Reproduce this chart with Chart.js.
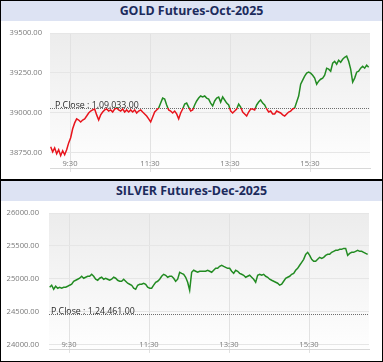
<!DOCTYPE html>
<html>
<head>
<meta charset="utf-8">
<script src="https://cdn.jsdelivr.net/npm/chart.js@4.4.0/dist/chart.umd.min.js"></script>
<style>
    body { margin: 0; background: #fff; font-family: 'Open Sans', sans-serif; }
    .panel { position: absolute; left: 0; width: 383px; box-sizing: border-box; border: 1px solid #000; background: #fff; }
    .head { height: 20px; line-height: 20px; background: #dde3f3; color: #1c2b5c; font-weight: bold; font-size: 12.4px; text-align: center; }
    canvas { display: block; }
</style>
</head>
<body>
<div class="panel" style="top:0;height:180px">
    <div class="head">GOLD Futures-Oct-2025</div>
    <canvas id="goldChart" width="381" height="158"></canvas>
</div>
<div class="panel" style="top:180px;height:182px">
    <div class="head">SILVER Futures-Dec-2025</div>
    <canvas id="silverChart" width="381" height="160"></canvas>
</div>
<script>
// x軸：9:00からの分、3分毎のデータ
const startMinute = 1;
const stepMinutes = 3;
const timeTicks = ["9:30", "11:30", "13:30", "15:30"];

// GOLD
const goldTicks = [38750, 39000, 39250, 39500];
const goldPrevClose = 39033;
const goldPrevCloseText = "P.Close : 1,09,033.00";
const goldPrices = [
    38789, 38757, 38782, 38745, 38770, 38733, 38764, 38739, 38770, 38813,
    38845, 38901, 38938, 38963, 38956, 38944, 38956, 38963, 38981, 39000,
    39012, 39019, 39025, 38988, 38956, 38988, 39006, 39019, 39025, 39012,
    39019, 39006, 39025, 39031, 39019, 39012, 39025, 39006, 39019, 39006,
    39019, 39006, 39019, 39000, 39012, 39019, 39006, 38994, 38981, 38963,
    38944, 38975, 39006, 39019, 39031, 39062, 39093, 39087, 39050, 39019,
    39012, 39000, 39012, 38994, 38963, 39000, 39025, 39056, 39062, 39037,
    39012, 39019, 39050, 39075, 39093, 39106, 39100, 39106, 39093, 39087,
    39062, 39044, 39075, 39093, 39100, 39068, 39100, 39081, 39062, 39050,
    39012, 39000, 39012, 39025, 39056, 39037, 39006, 38994, 38981, 39006,
    39025, 39025, 39019, 39050, 39068, 39081, 39062, 39050, 39025, 39006,
    39012, 38994, 38994, 39012, 39006, 39000, 38988, 38981, 38994, 39006,
    39012, 39025, 39031, 39068, 39106, 39180, 39205, 39230, 39249, 39255,
    39249, 39236, 39218, 39180, 39199, 39211, 39218, 39236, 39280, 39274,
    39261, 39311, 39323, 39305, 39330, 39317, 39336, 39348, 39355, 39323,
    39274, 39193, 39218, 39255, 39261, 39280, 39292, 39280, 39299, 39286
];

// SILVER
const silverTicks = [24000, 24500, 25000, 25500, 26000];
const silverPrevClose = 24461;
const silverPrevCloseText = "P.Close : 1,24,461.00";
const silverPrices = [
    24871, 24902, 24841, 24886, 24856, 24871, 24856, 24871, 24871, 24886,
    24902, 24917, 24962, 24977, 24993, 25008, 25038, 25008, 25023, 25038,
    25038, 25068, 25038, 24993, 24977, 25008, 25023, 24993, 25008, 24993,
    24977, 24993, 25023, 25008, 24977, 24962, 24962, 24993, 24962, 24932,
    24917, 24902, 24856, 24841, 24902, 24917, 24917, 24932, 24917, 24871,
    24856, 24856, 24902, 24947, 24962, 24993, 25038, 25068, 25053, 25023,
    25038, 25038, 25008, 24962, 24993, 25099, 25083, 25068, 25023, 24947,
    24826, 25099, 25129, 25114, 25099, 25114, 25114, 25114, 25114, 25129,
    25114, 25099, 25129, 25159, 25159, 25189, 25205, 25189, 25174, 25159,
    25159, 25114, 25083, 25129, 25114, 25083, 25068, 25053, 25023, 25038,
    25053, 25023, 24993, 24947, 25053, 25068, 25053, 25068, 25038, 25023,
    24993, 24977, 24962, 24947, 24932, 24902, 24917, 24962, 25008, 25023,
    25038, 25068, 25083, 25129, 25159, 25205, 25250, 25296, 25371, 25402,
    25356, 25296, 25265, 25265, 25296, 25326, 25311, 25326, 25356, 25371,
    25371, 25402, 25417, 25432, 25432, 25447, 25447, 25462, 25462, 25356,
    25386, 25402, 25402, 25417, 25432, 25417, 25417, 25402, 25386, 25371
];

const upColor = '#228b22';
const downColor = '#e8141c';

// "9:30" -> 30
function toMinutes(label) {
    const [h, m] = label.split(':').map(Number);
    return (h - 9) * 60 + m;
}
function toLabel(min) {
    return (9 + Math.floor(min / 60)) + ':' + String(min % 60).padStart(2, '0');
}

// P.Closeより上は緑、下は赤
function splitColor(ctx, prevClose) {
    const chart = ctx.chart;
    const area = chart.chartArea;
    if (!area) return upColor;
    const yPos = chart.scales.y.getPixelForValue(prevClose);
    let stop = (yPos - area.top) / (area.bottom - area.top);
    stop = Math.min(Math.max(stop, 0), 1);
    const g = chart.ctx.createLinearGradient(0, area.top, 0, area.bottom);
    g.addColorStop(0, upColor);
    g.addColorStop(stop, upColor);
    g.addColorStop(stop, downColor);
    g.addColorStop(1, downColor);
    return g;
}

// 描画領域の背景グラデーション
const areaBg = {
    id: 'areaBg',
    beforeDraw(chart) {
        const { ctx, chartArea: a } = chart;
        const g = ctx.createLinearGradient(0, a.top, 0, a.bottom);
        g.addColorStop(0, '#ececec');
        g.addColorStop(1, '#fefefe');
        ctx.save();
        ctx.fillStyle = g;
        ctx.fillRect(a.left, a.top, a.right - a.left, a.bottom - a.top);
        ctx.restore();
    }
};

// 前日終値の点線とラベル
const prevCloseLine = {
    id: 'prevClose',
    beforeDatasetsDraw(chart, args, opts) {
        const { ctx, chartArea: a } = chart;
        const y = Math.round(chart.scales.y.getPixelForValue(opts.value)) + 0.5;
        ctx.save();
        ctx.strokeStyle = '#6e6e6e';
        ctx.lineWidth = 1;
        ctx.setLineDash([1, 1]);
        ctx.beginPath();
        ctx.moveTo(a.left, y);
        ctx.lineTo(a.right, y);
        ctx.stroke();
        ctx.setLineDash([]);
        ctx.font = '8.8px "Open Sans"';
        ctx.fillStyle = '#2b2b2b';
        ctx.textBaseline = 'alphabetic';
        ctx.fillText(opts.text, a.left + opts.textOffset, y - 1);
        ctx.restore();
    }
};

function createLineChart(id, s) {
    const points = s.prices.map((v, i) => ({ x: startMinute + i * stepMinutes, y: v }));
    let config = {
        type: 'line',
        data: {
            datasets: [{
                data: points,
                borderColor: (ctx) => splitColor(ctx, s.prevClose),
                borderWidth: 1.5,
                pointRadius: 0,
                tension: 0
            }]
        },
        options: {
            responsive: false,
            animation: false,
            layout: { padding: s.padding },
            plugins: {
                legend: { display: false },
                tooltip: { enabled: false },
                prevClose: { value: s.prevClose, text: s.prevCloseText, textOffset: s.textOffset }
            },
            scales: {
                x: {
                    type: 'linear',
                    min: 0,
                    max: 480,
                    afterBuildTicks: (scale) => { scale.ticks = timeTicks.map(t => ({ value: toMinutes(t) })); },
                    afterFit: (scale) => { scale.height = 4; scale.paddingLeft = 0; scale.paddingRight = 0; },
                    grid: { color: '#e2e2e2', tickLength: 4 },
                    border: { color: '#d8d8d8' },
                    ticks: {
                        mirror: true,
                        padding: 0,
                        autoSkip: false,
                        maxRotation: 0,
                        color: '#7a7a7a',
                        font: { family: 'Open Sans', size: 7.6 },
                        callback: (v) => toLabel(v)
                    }
                },
                y: {
                    min: s.yMin,
                    max: s.yMax,
                    afterBuildTicks: (scale) => { scale.ticks = s.ticks.map(v => ({ value: v })); },
                    afterFit: (scale) => { scale.width = s.axisWidth; scale.paddingTop = 0; scale.paddingBottom = 0; },
                    grid: { color: '#e6e6e6', drawTicks: false },
                    border: { display: false },
                    ticks: {
                        padding: s.labelPad,
                        color: '#7a7a7a',
                        font: { family: 'Open Sans', size: 7.6 },
                        callback: (v) => v.toFixed(2)
                    }
                }
            }
        },
        plugins: [areaBg, prevCloseLine]
    };
    return new Chart(document.getElementById(id).getContext('2d'), config);
}

createLineChart('goldChart', {
    prices: goldPrices,
    ticks: goldTicks,
    prevClose: goldPrevClose,
    prevCloseText: goldPrevCloseText,
    yMin: 38656,
    yMax: 39500,
    axisWidth: 49,
    labelPad: 8,
    textOffset: 5,
    padding: { left: 0, right: 12, top: 12, bottom: 7 }
});

createLineChart('silverChart', {
    prices: silverPrices,
    ticks: silverTicks,
    prevClose: silverPrevClose,
    prevCloseText: silverPrevCloseText,
    yMin: 23932,
    yMax: 26000,
    axisWidth: 48,
    labelPad: 10,
    textOffset: 2,
    padding: { left: 0, right: 13, top: 12, bottom: 8 }
});
</script>
</body>
</html>
